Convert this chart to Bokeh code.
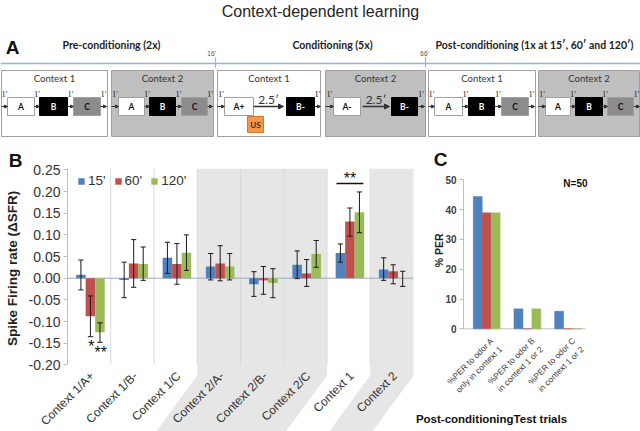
import math
from bokeh.plotting import figure
from bokeh.layouts import column, row
from bokeh.models import (Range1d, FixedTicker, PrintfTickFormatter, Legend, LegendItem,
                          Label, Arrow, NormalHead)
from bokeh.core.properties import value
from bokeh.embed import file_html
from bokeh.resources import INLINE

# ---------------- data ----------------
title_text = "Context-dependent learning"
stage_names = ["Pre-conditioning (2x)", "Conditioning (5x)",
               "Post-conditioning (1x at 15\u2032, 60\u2032 and 120\u2032)"]
stage_times = ["16\u2032", "66\u2032"]

b_categories = ["Context 1/A+", "Context 1/B-", "Context 1/C", "Context 2/A-",
                "Context 2/B-", "Context 2/C", "Context 1", "Context 2"]
b_series = ["15'", "60'", "120'"]
b_15 = [0.008, -0.004, 0.047, 0.027, -0.014, 0.031, 0.058, 0.020]
b_15_hi = [0.042, 0.037, 0.083, 0.057, 0.015, 0.063, 0.079, 0.047]
b_15_lo = [-0.027, -0.045, 0.011, -0.004, -0.042, -0.001, 0.037, -0.005]
b_60 = [-0.088, 0.034, 0.033, 0.034, -0.005, 0.011, 0.131, 0.016]
b_60_hi = [-0.041, 0.089, 0.080, 0.075, 0.027, 0.043, 0.162, 0.031]
b_60_lo = [-0.135, -0.021, -0.014, -0.006, -0.037, -0.019, 0.097, -0.013]
b_120 = [-0.125, 0.033, 0.059, 0.027, -0.011, 0.056, 0.152, 0.000]
b_120_hi = [-0.103, 0.072, 0.100, 0.057, 0.022, 0.087, 0.199, 0.016]
b_120_lo = [-0.148, -0.005, 0.018, -0.004, -0.045, 0.025, 0.105, -0.019]
b_yticks = [-0.20, -0.15, -0.10, -0.05, 0.00, 0.05, 0.10, 0.15, 0.20, 0.25]
b_ytitle = "Spike Firing rate (\u0394SFR)"
b_stars = [("*", 0, 1), ("**", 0, 2)]        # (text, category index, series index)
b_bracket = ("**", 6)                          # significance over category index

c_categories = ["%PER to odor A\nonly in context 1",
                "%PER to odor B\nin context 1 or 2",
                "%PER to odor C\nin context 1 or 2"]
c_15 = [44.4, 6.7, 5.9]
c_60 = [38.9, 0.0, 0.0]
c_120 = [38.9, 6.7, 0.0]
c_yticks = [0, 10, 20, 30, 40, 50]
c_ytitle = "% PER"
c_xtitle = "Post-conditioningTest trials"
c_note = "N=50"

# ---------------- styles ----------------
FONT = "Liberation Sans"
DIA = "Lato"
BLUE, RED, GREEN = "#4F81BD", "#C0504D", "#9BBB59"
COLORS = [BLUE, RED, GREEN]
TXT = "#333333"
SHADE = "#e6e6e6"
BOXGRAY = "#bfbfbf"
CGRAY = "#8c8c8c"
BORDER = "#a0a0a0"
TOTAL_W, TOP_H, BOT_H = 640, 148, 283


def txt(fig, x, y, s, size, color="#222222", bold=False, font=DIA, align="center",
        baseline="middle", angle=0.0):
    fig.text(x=[x], y=[y], text=[s], text_font=value(font), text_font_size=f"{size}px",
             text_font_style="bold" if bold else "normal", text_color=color,
             text_align=align, text_baseline=baseline, angle=angle)


def style_yaxis(ax, size, bold, color):
    ax.axis_line_color = "#bfbfbf"
    ax.major_tick_line_color = "#bfbfbf"
    ax.major_tick_out = 4
    ax.major_tick_in = 0
    ax.minor_tick_line_color = None
    ax.major_label_standoff = 3
    ax.major_label_text_font = FONT
    ax.major_label_text_font_size = size
    ax.major_label_text_font_style = "bold" if bold else "normal"
    ax.major_label_text_color = color
    ax.fixed_location = 0


# ================= top: title + schematic (panel A) =================
top = figure(width=TOTAL_W, height=TOP_H, x_range=Range1d(0, 640), y_range=Range1d(148, 0),
             output_backend="svg", toolbar_location=None, x_axis_type=None, y_axis_type=None,
             min_border=0, outline_line_color=None)

txt(top, 320, 11, title_text, 16, color="#262626", font=FONT)
txt(top, 12, 47, "A", 19, color="#111111", bold=True, font=FONT)
for s, x in zip(stage_names, [111, 332, 534]):
    txt(top, x, 44, s, 10.5, color="#222222", bold=True)
for s, x in zip(stage_times, [211, 424]):
    txt(top, x, 53, s, 6.5, color="#555555", font=FONT)
top.line(x=[0, 640], y=[63, 63], line_color="#95b3d7", line_width=1.5)
top.segment(x0=[215, 425], y0=[57, 57], x1=[215, 425], y1=[67, 67], line_color="#95b3d7",
            line_width=1.2)

ctx_boxes = [(1, 107, "white", "Context 1"), (111, 213, BOXGRAY, "Context 2"),
             (217, 320, "white", "Context 1"), (325, 425, BOXGRAY, "Context 2"),
             (428, 535, "white", "Context 1"), (538, 639, BOXGRAY, "Context 2")]
for x0, x1, fill, name in ctx_boxes:
    top.quad(left=[x0], right=[x1], top=[70], bottom=[136], fill_color=fill,
             line_color=BORDER, line_width=1)
    txt(top, (x0 + x1) / 2, 78, name, 9.5, color="#333333")

odor_boxes = [("A", 7, 34, "white", "#111111"), ("B", 39, 67, "black", "white"),
              ("C", 73, 100, CGRAY, "#111111"),
              ("A", 118, 144, "white", "#111111"), ("B", 149, 175, "black", "white"),
              ("C", 181, 207, CGRAY, "#111111"),
              ("A+", 224, 253, "white", "#111111"), ("B-", 286, 314, "black", "white"),
              ("A-", 333, 360, "white", "#111111"), ("B-", 391, 417, "black", "white"),
              ("A", 434, 462, "white", "#111111"), ("B", 468, 494, "black", "white"),
              ("C", 501, 528, CGRAY, "#111111"),
              ("A", 545, 570, "white", "#111111"), ("B", 575, 602, "black", "white"),
              ("C", 607, 633, CGRAY, "#111111")]
for lab, x0, x1, fill, tc in odor_boxes:
    top.quad(left=[x0], right=[x1], top=[97], bottom=[115], fill_color=fill,
             line_color=BORDER if fill != "black" else "black", line_width=1)
    txt(top, (x0 + x1) / 2, 106.5, lab, 8.5, color=tc, bold=True)

# US box
top.quad(left=[247], right=[263], top=[116], bottom=[132], fill_color="#F79646",
         line_color="#d07a30", line_width=1)
txt(top, 255, 124.5, "US", 8, color="#333333", bold=True)

arrows = [(1, 7, "1\u2032"), (34, 39, "1\u2032"), (67, 73, "1\u2032"), (100, 106, "1\u2032"),
          (111, 118, "1\u2032"), (144, 149, "1\u2032"), (175, 181, "1\u2032"), (207, 212, "1\u2032"),
          (217, 224, "1\u2032"), (253, 283, "2.5\u2032"), (314, 320, "1\u2032"),
          (325, 333, "1\u2032"), (362, 389, "2.5\u2032"), (417, 424, "1\u2032"),
          (428, 434, "1\u2032"), (462, 468, "1\u2032"), (494, 501, "1\u2032"), (528, 534, "1\u2032"),
          (538, 545, "1\u2032"), (570, 575, "1\u2032"), (602, 607, "1\u2032"), (633, 639, "1\u2032")]
for xs, xe, lab in arrows:
    big = lab != "1\u2032"
    top.add_layout(Arrow(x_start=xs, y_start=106, x_end=xe, y_end=106,
                         line_color="#333333", line_width=1.3 if big else 1,
                         end=NormalHead(size=5 if big else 3, fill_color="#333333",
                                        line_color="#333333")))
    if big:
        txt(top, (xs + xe) / 2, 99, lab, 12, color="#333333")
    else:
        txt(top, (xs + xe) / 2, 93, lab, 8.5, color="#222222", font="Liberation Serif")

# ================= panel B =================
B_W, B_LEFT, B_PX = 415, 67, 43.25
nB = len(b_categories)
pB = figure(width=B_W, height=BOT_H,
            x_range=Range1d(-B_LEFT / B_PX, (B_W - B_LEFT) / B_PX),
            y_range=Range1d(-0.3538, 0.2993),
            output_backend="svg", toolbar_location=None, x_axis_type=None,
            min_border=0, outline_line_color=None)
pB.ygrid.visible = False
ya = pB.yaxis[0]
ya.ticker = FixedTicker(ticks=b_yticks)
ya.formatter = PrintfTickFormatter(format="%.2f")
ya.bounds = (min(b_yticks), 0.2525)
style_yaxis(ya, "14px", False, TXT)

# shaded "Context 2" blocks (with slanted extension under the labels)
blocks = []
i = 0
while i < nB:
    if b_categories[i].startswith("Context 2"):
        j = i
        while j < nB and b_categories[j].startswith("Context 2"):
            j += 1
        blocks.append((i, j))
        i = j
    else:
        i += 1
SL = 0.95
ytop, ymid, ybot = 0.2525, -0.2245, -0.3538
pB.patches(xs=[[a, b, b, b - SL, a - SL, a] for a, b in blocks],
           ys=[[ytop, ytop, ymid, ybot, ybot, ymid] for _ in blocks],
           fill_color=SHADE, line_color=None)

seps = list(range(1, nB))
pB.segment(x0=seps, y0=[min(b_yticks)] * len(seps), x1=seps, y1=[ytop] * len(seps),
           line_color="#d9d9d9", line_width=1)
pB.segment(x0=[0], y0=[0], x1=[nB], y1=[0], line_color="#9aaac0", line_width=1)

offs = [-0.22, 0.0, 0.22]
series = [(b_15, b_15_hi, b_15_lo), (b_60, b_60_hi, b_60_lo), (b_120, b_120_hi, b_120_lo)]
renderers = []
bar_x = []
for k, (vals, hi, lo) in enumerate(series):
    xs = [i + 0.53 + offs[k] for i in range(nB)]
    bar_x.append(xs)
    r = pB.vbar(x=xs, top=vals, bottom=0, width=0.22, fill_color=COLORS[k], line_color=None)
    renderers.append(r)
for k, (vals, hi, lo) in enumerate(series):
    xs = bar_x[k]
    pB.segment(x0=xs, y0=lo, x1=xs, y1=hi, line_color="#1a1a1a", line_width=1)
    pB.segment(x0=[x - 0.06 for x in xs], y0=hi, x1=[x + 0.06 for x in xs], y1=hi,
               line_color="#1a1a1a", line_width=1)
    pB.segment(x0=[x - 0.06 for x in xs], y0=lo, x1=[x + 0.06 for x in xs], y1=lo,
               line_color="#1a1a1a", line_width=1)

lows = [b_15_lo, b_60_lo, b_120_lo]
for s, ci, si in b_stars:
    txt(pB, bar_x[si][ci] + 0.02, lows[si][ci] - 0.004, s, 16, color="#111111",
        font=FONT, baseline="top")
highs = [b_15_hi, b_60_hi, b_120_hi]
s, ci = b_bracket
ybr = max(h[ci] for h in highs) + 0.0195
pB.segment(x0=[ci + 0.22], y0=[ybr], x1=[ci + 0.84], y1=[ybr], line_color="#111111",
           line_width=1.5)
txt(pB, ci + 0.53, ybr + 0.011, s, 16, color="#111111", font=FONT, baseline="alphabetic")

for i, lab in enumerate(b_categories):
    pB.add_layout(Label(x=i + 0.57, y=-0.221, text=lab, angle=math.pi / 4,
                        text_align="right", text_baseline="middle", text_font=FONT,
                        text_font_size="12px", text_color=TXT))

pB.add_layout(Label(x=-1.20, y=0.2716, text="B", text_align="center", text_baseline="middle",
                    text_font=FONT, text_font_size="19px", text_font_style="bold",
                    text_color="#111111"))
pB.add_layout(Label(x=-1.28, y=0.0224, text=b_ytitle, angle=math.pi / 2, text_align="center",
                    text_baseline="middle", text_font=FONT, text_font_size="13.5px",
                    text_font_style="bold", text_color="#222222"))

legend = Legend(items=[LegendItem(label=n, renderers=[r]) for n, r in zip(b_series, renderers)],
                orientation="horizontal", location=(B_LEFT + 10, 243), padding=0, margin=0,
                spacing=8, glyph_width=8, glyph_height=8, label_standoff=3, label_height=14,
                label_width=10, label_text_font_size="13.5px", label_text_font=FONT,
                label_text_color=TXT, border_line_color=None, background_fill_alpha=0)
pB.add_layout(legend)

# ================= panel C =================
C_W, C_LEFT, C_PX = TOTAL_W - B_W, 48, 40.7
nC = len(c_categories)
pC = figure(width=C_W, height=BOT_H, x_range=Range1d(-C_LEFT / C_PX, (C_W - C_LEFT) / C_PX),
            y_range=Range1d(-34.46, 60.5), output_backend="svg", toolbar_location=None,
            x_axis_type=None, min_border=0, outline_line_color=None)
pC.ygrid.visible = False
yc = pC.yaxis[0]
yc.ticker = FixedTicker(ticks=c_yticks)
yc.bounds = (min(c_yticks), max(c_yticks))
style_yaxis(yc, "10px", True, "#404040")

pC.segment(x0=[0], y0=[0], x1=[nC], y1=[0], line_color="#bfbfbf", line_width=1)
for k, vals in enumerate([c_15, c_60, c_120]):
    xs = [i + 0.57 + offs[k] for i in range(nC)]
    pC.vbar(x=xs, top=vals, bottom=0, width=0.22, fill_color=COLORS[k], line_color=COLORS[k],
            line_width=0.5)

for i, lab in enumerate(c_categories):
    pC.add_layout(Label(x=i + 0.62, y=-2.3, text=lab, angle=math.pi / 4, text_align="right",
                        text_baseline="top", text_font=FONT, text_font_size="8.5px",
                        text_color="#404040"))
txt(pC, 2.75, 48.7, c_note, 10, color="#111111", bold=True, font=FONT)
pC.add_layout(Label(x=-0.565, y=56.8, text="C", text_align="center", text_baseline="middle",
                    text_font=FONT, text_font_size="19px", text_font_style="bold",
                    text_color="#111111"))
pC.add_layout(Label(x=-0.61, y=26.3, text=c_ytitle, angle=math.pi / 2, text_align="center",
                    text_baseline="middle", text_font=FONT, text_font_size="10.5px",
                    text_font_style="bold", text_color="#222222"))
pC.add_layout(Label(x=-1.17, y=-30.1, text=c_xtitle, text_align="left", text_baseline="middle",
                    text_font=FONT, text_font_size="11.5px", text_font_style="bold",
                    text_color="#111111"))

layout = column(top, row(pB, pC))
open("out.html", "w").write(file_html(layout, INLINE))
